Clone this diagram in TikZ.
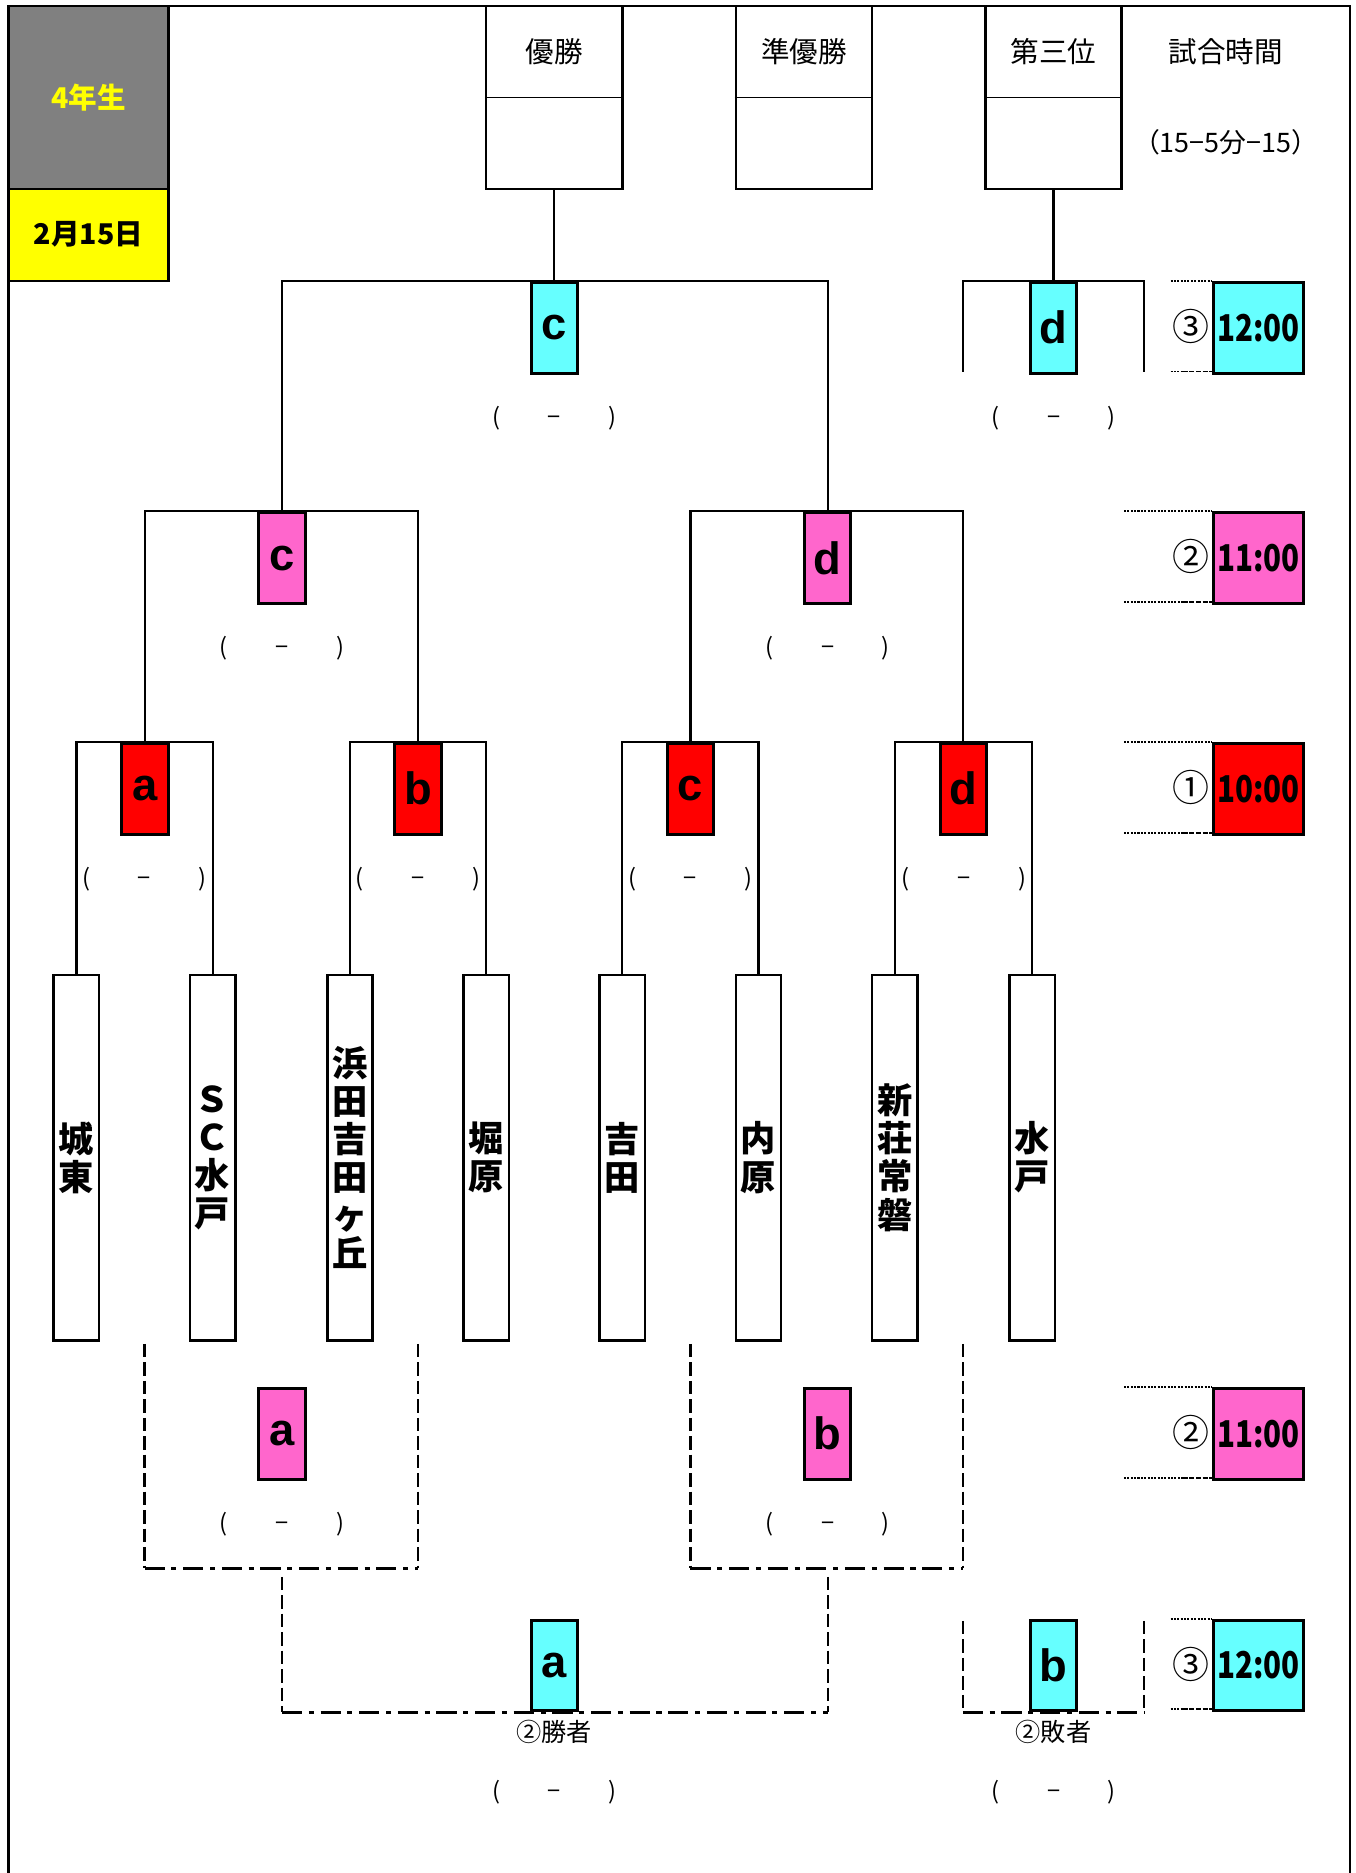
\documentclass[tikz,border=0pt]{standalone}
\usepackage{fontspec}
\setmainfont{Noto Sans CJK JP}
\newfontfamily\arialfont{Liberation Sans}
\definecolor{boxgray}{HTML}{808080}
\definecolor{boxyellow}{HTML}{FFFF00}
\definecolor{tcyan}{HTML}{66FFFF}
\definecolor{tpink}{HTML}{FF66CC}
\definecolor{tred}{HTML}{FF0000}
\newcommand{\scoretxt}{\makebox[2.6cm]{(\hfill −\hfill )}}

\begin{document}
\begin{tikzpicture}[x=0.025cm,y=-0.025cm,
    frame/.style={line width=1.4pt},
    wire/.style={line width=1.3pt},
    vdash/.style={line width=1.3pt,dash pattern=on 8pt off 3pt},
    hdash/.style={line width=1.3pt,dash pattern=on 12pt off 4pt on 3pt off 4pt},
    guide/.style={line width=1.1pt,dash pattern=on 1.2pt off 0.8pt},
    guidedash/.style={line width=1.1pt,dash pattern=on 3pt off 1pt},
    match/.style={draw,line width=1.8pt,anchor=north,minimum width=0.97cm,minimum height=1.9cm,inner sep=0pt,font=\arialfont\bfseries\fontsize{27}{27}\selectfont},
    team/.style={draw,line width=1.5pt,anchor=north,minimum width=0.95cm,minimum height=7.65cm,inner sep=0pt,align=center,font=\bfseries\fontsize{21}{22.7}\selectfont},
    prize/.style={draw,line width=1.5pt,minimum width=2.85cm,minimum height=3.825cm},
    timebox/.style={draw,line width=1.8pt,anchor=north,minimum width=1.875cm,minimum height=1.9cm,inner sep=0pt,font=\bfseries\fontsize{22}{22}\selectfont},
    head/.style={font=\fontsize{17}{17}\selectfont},
    score/.style={inner sep=0pt,font=\fontsize{14}{14}\selectfont},
    circnum/.style={inner sep=0pt,font=\fontsize{22}{22}\selectfont}]
    \useasboundingbox (0,0) rectangle (1135,1568);
    %% frame
    \draw[frame] (7,1568) -- (7,5) -- (1130,5) -- (1130,1568);
    %% grade and date
    \node[draw,frame,fill=boxgray,minimum width=3.35cm,minimum height=3.825cm,text=boxyellow,font=\bfseries\fontsize{17}{17}\selectfont] (grade) at (74,81.5) {4年生};
    \node[draw,frame,fill=boxyellow,minimum width=3.35cm,minimum height=1.925cm,font=\bfseries\fontsize{17}{17}\selectfont] (date) at (74,196.5) {2月15日};
    %% prize boxes
    \foreach \n/\x/\t in {champ/464/優勝, second/673/準優勝, third/882/第三位} {
        \node[prize] (\n) at (\x,81.5) {};
        \draw[thin] (\n.west) -- (\n.east);
        \node[head] (\n txt) at (\x,43) {\t};
    }
    \node[head] (timehead) at (1026,43) {試合時間};
    \node[head,font=\fontsize{16}{16}\selectfont] (rule) at (1026,119) {（15−5分−15）};
    %% teams
    \foreach \i/\x/\nm in {1/64/城\\東, 2/178/Ｓ\\Ｃ\\水\\戸, 3/293/浜\\田\\吉\\田\\ヶ\\丘, 4/407/堀\\原,
                           5/521/吉\\田, 6/635/内\\原, 7/749/新\\荘\\常\\磐, 8/864/水\\戸}
        \node[team] (t\i) at (\x,815) {\nm};
    %% matches
    \node[match,fill=tred] (r1a) at (121.5,621) {a};
    \node[match,fill=tred] (r1b) at (350,621) {b};
    \node[match,fill=tred] (r1c) at (578,621) {c};
    \node[match,fill=tred] (r1d) at (806.5,621) {d};
    \node[match,fill=tpink] (r2a) at (236,428) {c};
    \node[match,fill=tpink] (r2b) at (693,428) {d};
    \node[match,fill=tcyan] (fin) at (464,235) {c};
    \node[match,fill=tcyan] (thd) at (882,235) {d};
    \node[match,fill=tpink] (consa) at (236,1161) {a};
    \node[match,fill=tpink] (consb) at (693,1161) {b};
    \node[match,fill=tcyan] (cfin) at (464,1355) {a};
    \node[match,fill=tcyan] (cthd) at (882,1355) {b};
    %% main bracket
    \draw[wire] (t1.north) |- (r1a.north) -| (t2.north);
    \draw[wire] (t3.north) |- (r1b.north) -| (t4.north);
    \draw[wire] (t5.north) |- (r1c.north) -| (t6.north);
    \draw[wire] (t7.north) |- (r1d.north) -| (t8.north);
    \draw[wire] (r1a.north) |- (r2a.north) -| (r1b.north);
    \draw[wire] (r1c.north) |- (r2b.north) -| (r1d.north);
    \draw[wire] (r2a.north) |- (fin.north) -| (r2b.north);
    \draw[wire] (fin.north) -- (champ.south);
    \coordinate (thl) at (806,311);
    \coordinate (thr) at (958,311);
    \draw[wire] (thl) |- (thd.north) -| (thr);
    \draw[wire] (thd.north) -- (third.south);
    %% consolation bracket
    \foreach \n/\l/\r in {p/121/350, q/578/806} {
        \coordinate (\n tl) at (\l,1125);
        \coordinate (\n tr) at (\r,1125);
        \coordinate (\n bl) at (\l,1313);
        \coordinate (\n br) at (\r,1313);
        \draw[vdash] (\n tl) -- (\n bl);
        \draw[vdash] (\n tr) -- (\n br);
        \draw[hdash] (\n bl) -- (\n br);
    }
    \coordinate (pm) at (236,1320);
    \coordinate (qm) at (693,1320);
    \draw[vdash] (pm) -- (pm |- cfin.south);
    \draw[vdash] (qm) -- (qm |- cfin.south);
    \draw[hdash] (pm |- cfin.south) -- (cfin.south) -- (qm |- cfin.south);
    \coordinate (cl) at (806,1357);
    \coordinate (cr) at (958,1357);
    \draw[vdash] (cl) -- (cl |- cthd.south);
    \draw[vdash] (cr) -- (cr |- cthd.south);
    \draw[hdash] (cl |- cthd.south) -- (cthd.south) -- (cr |- cthd.south);
    \node[score,font=\fontsize{15}{15}\selectfont] (winlbl) at (464,1450) {②勝者};
    \node[score,font=\fontsize{15}{15}\selectfont] (loselbl) at (882,1450) {②敗者};
    %% scores
    \foreach \n/\x/\y in {s1/464/350, s2/882/350, s3/236/543, s4/693/543, s5/121/736, s6/350/736,
                          s7/578/736, s8/807/736, s9/236/1276, s10/693/1276, s11/464/1500, s12/882/1500}
        \node[score] (\n) at (\x,\y) {\scoretxt};
    %% times
    \foreach \i/\y/\k/\t/\c/\s in {1/235/③/12:00/tcyan/980, 2/428/②/11:00/tpink/941, 3/621/①/10:00/tred/941,
                                   4/1161/②/11:00/tpink/941, 5/1355/③/12:00/tcyan/980} {
        \node[timebox,fill=\c] (time\i) at (1053.5,\y) {\scalebox{0.8}[1]{\t}};
        \node[circnum] (num\i) at (997,\y+38) {\k};
        \coordinate (gt\i) at (\s,\y);
        \coordinate (gb\i) at (\s,\y+76);
        \coordinate (gm\i) at (990,\y+76);
        \draw[guide] (gt\i) -- (gt\i -| time\i.west);
        \draw[guide] (gb\i) -- (gm\i);
        \draw[guidedash] (gm\i) -- (gm\i -| time\i.west);
    }
\end{tikzpicture}
\end{document}
